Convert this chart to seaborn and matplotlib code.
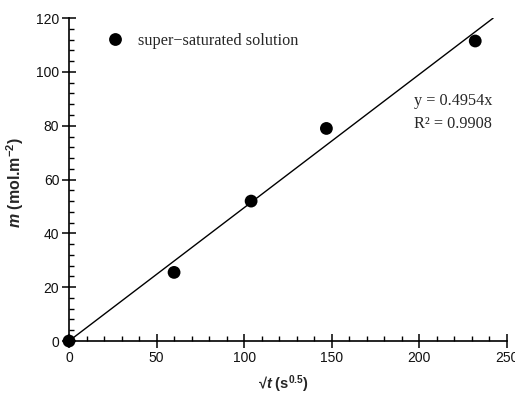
import matplotlib
matplotlib.use("Agg")
import matplotlib.pyplot as plt
from matplotlib.ticker import MultipleLocator
import numpy as np
import pandas as pd
import seaborn as sns

# data
sqrt_t = [0, 60, 104, 147, 232]
m_values = [0, 25.5, 52, 79, 111.5]
series_name = "super\u2212saturated solution"
slope = 0.4954
r_squared = 0.9908
fit_x = [0, 242.2]

x_ticks = [0, 50, 100, 150, 200, 250]
y_ticks = [0, 20, 40, 60, 80, 100, 120]

sns.set_style("ticks")
plt.rcParams["font.family"] = ["Liberation Sans", "DejaVu Sans"]
plt.rcParams["mathtext.fontset"] = "custom"
plt.rcParams["mathtext.rm"] = "Liberation Sans:bold"
plt.rcParams["mathtext.bf"] = "Liberation Sans:bold"
plt.rcParams["mathtext.it"] = "Liberation Sans:italic:bold"
plt.rcParams["mathtext.bfit"] = "Liberation Sans:italic:bold"

df = pd.DataFrame({"x": sqrt_t, "m": m_values, "series": series_name})
fit_df = pd.DataFrame({"x": fit_x, "y": slope * np.array(fit_x)})

fig = plt.figure(figsize=(5.15, 3.94), dpi=100)
ax = fig.add_axes([0.134, 0.1345, 0.850, 0.8195])

sns.lineplot(data=fit_df, x="x", y="y", ax=ax, color="black", linewidth=1.0,
             legend=False, zorder=2)
sns.scatterplot(data=df, x="x", y="m", hue="series", palette=["black"], ax=ax,
                s=85, edgecolor="black", linewidth=0, zorder=3)

ax.set_xlim(0, 250)
ax.set_ylim(0, 120)
ax.set_xticks(x_ticks)
ax.set_yticks(y_ticks)
ax.xaxis.set_minor_locator(MultipleLocator(10))
ax.yaxis.set_minor_locator(MultipleLocator(4))
ax.tick_params(which="major", direction="inout", length=10, width=1.1,
               labelsize=10, color="black", labelcolor="#111111", pad=2)
ax.tick_params(which="minor", direction="in", length=3.5, width=1.0, color="black")

for side in ["top", "right"]:
    ax.spines[side].set_visible(False)
for side in ["left", "bottom"]:
    ax.spines[side].set_linewidth(1.2)
    ax.spines[side].set_color("black")
for coll in ax.collections:
    coll.set_clip_on(False)

ax.set_xlabel("\u221a$\\mathit{t}$ (s$^{0.5}$)", fontsize=10.5, fontweight="bold")
ax.set_ylabel("$\\mathit{m}$ (mol.m$^{-2}$)", fontsize=11.5, fontweight="bold")
ax.xaxis.label.set_va("center")
ax.yaxis.label.set_va("center")
ax.yaxis.set_label_coords(-0.123, 0.49)
ax.xaxis.set_label_coords(0.49, -0.133)

leg = ax.legend(loc="center left", bbox_to_anchor=(0.086, 0.929), frameon=False,
                handlelength=1.0, handletextpad=0.9, borderpad=0, borderaxespad=0,
                prop={"family": "Liberation Serif", "size": 11.7}, markerscale=1.0)

ax.text(0.789, 0.708, f"y = {slope}x\nR\u00b2 = {r_squared}",
        transform=ax.transAxes, family="Liberation Serif", fontsize=11.7,
        va="center", ha="left", linespacing=1.55)

fig.savefig("out.png", dpi=100)
